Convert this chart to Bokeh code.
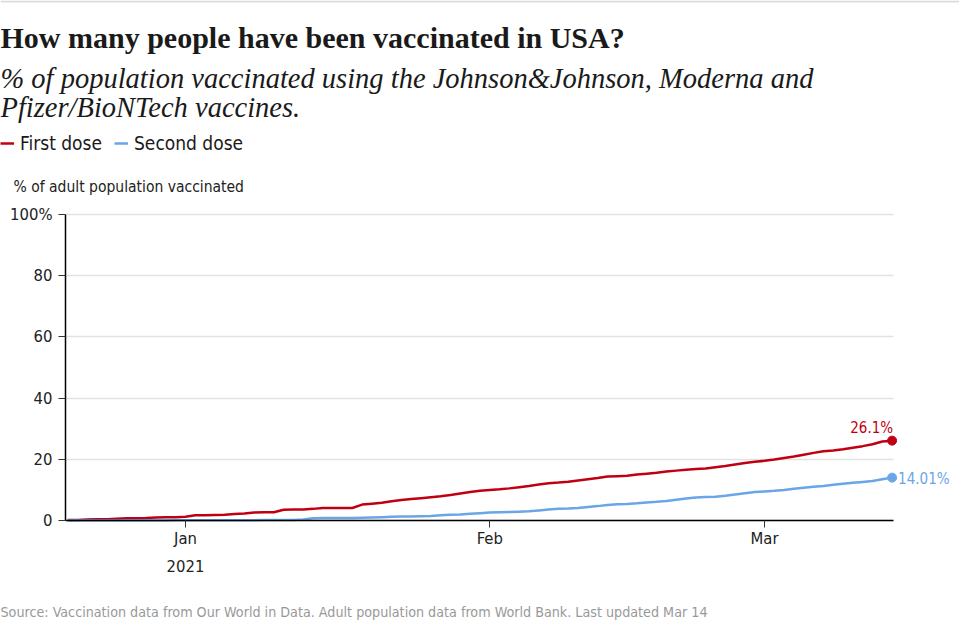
import pandas as pd
from bokeh.plotting import figure
from bokeh.models import (Label, Range1d, FixedTicker, Legend, LegendItem,
                          LinearAxis, DatetimeAxis, Grid, BoxAnnotation)
from bokeh.embed import file_html
from bokeh.resources import INLINE

start_date = "2020-12-20"
first_dose = [0.2, 0.2, 0.3, 0.4, 0.4, 0.6, 0.7, 0.7, 0.8, 1.0,
              1.1, 1.1, 1.2, 1.7, 1.7, 1.8, 1.9, 2.1, 2.3, 2.6,
              2.7, 2.7, 3.5, 3.6, 3.6, 3.8, 4.1, 4.1, 4.1, 4.1,
              5.2, 5.5, 5.8, 6.3, 6.7, 7.0, 7.3, 7.6, 7.9, 8.3,
              8.8, 9.3, 9.7, 10.0, 10.2, 10.5, 10.9, 11.3, 11.8, 12.2,
              12.4, 12.7, 13.1, 13.5, 13.9, 14.4, 14.5, 14.6, 15.0, 15.3,
              15.6, 16.0, 16.3, 16.6, 16.8, 17.0, 17.4, 17.8, 18.3, 18.8,
              19.2, 19.5, 19.9, 20.4, 20.9, 21.5, 22.1, 22.6, 22.9, 23.3,
              23.8, 24.3, 24.9, 25.8, 26.1]
second_dose = [0.0, 0.0, 0.0, 0.0, 0.0, 0.0, 0.0, 0.0, 0.0, 0.0,
               0.0, 0.05, 0.05, 0.05, 0.05, 0.05, 0.1, 0.1, 0.1, 0.1,
               0.15, 0.15, 0.15, 0.2, 0.3, 0.7, 0.8, 0.8, 0.8, 0.8,
               0.9, 1.0, 1.1, 1.2, 1.3, 1.3, 1.4, 1.5, 1.7, 1.9,
               2.0, 2.2, 2.4, 2.6, 2.7, 2.8, 2.9, 3.0, 3.3, 3.6,
               3.8, 3.9, 4.1, 4.4, 4.7, 5.1, 5.3, 5.4, 5.6, 5.9,
               6.1, 6.4, 6.8, 7.2, 7.5, 7.7, 7.8, 8.1, 8.5, 8.9,
               9.3, 9.5, 9.7, 10.0, 10.4, 10.7, 11.0, 11.3, 11.7, 12.0,
               12.3, 12.6, 12.9, 13.5, 14.01]
series_names = ["First dose", "Second dose"]
end_labels = ["26.1%", "14.01%"]
y_ticks = [0, 20, 40, 60, 80, 100]
x_tick_dates = ["2021-01-01", "2021-02-01", "2021-03-01"]
x_tick_labels = ["Jan", "Feb", "Mar"]
year_label = "2021"

dates = pd.date_range(start_date, periods=len(first_dose), freq="D")

RED = "#c00012"
BLUE = "#6aa6e5"
SANS = "DejaVu Sans Condensed, Roboto, sans-serif"
SERIF = "Liberation Serif, DejaVu Serif, serif"

W, H = 959, 637
# chart area on the canvas (pixels)
CL, CR, CT, CB = 65, 893, 214, 520
DAY_PX = 9.814
JAN1_PX = 185
DAY_MS = 86400000.0
jan1 = pd.Timestamp("2021-01-01").value / 1e6


def px_to_x(cx):
    return jan1 + (cx - JAN1_PX) / DAY_PX * DAY_MS


Y_PX = (CB - CT) / 100.0

p = figure(width=W, height=H, x_axis_type="datetime",
           x_axis_location=None, y_axis_location=None,
           x_range=Range1d(px_to_x(0), px_to_x(W)),
           y_range=Range1d(-(H - CB) / Y_PX, CB / Y_PX),
           output_backend="svg", toolbar_location=None,
           min_border=0)
p.outline_line_color = None
p.background_fill_color = "white"
p.border_fill_color = "white"
p.grid.visible = False

# thin rule at the very top
p.add_layout(BoxAnnotation(left=0, right=W, top=H, bottom=H - 2,
                           left_units="screen", right_units="screen",
                           top_units="screen", bottom_units="screen",
                           fill_color="#dcdcdc", fill_alpha=1, line_color=None))

# axes at fixed positions
yaxis = LinearAxis(fixed_location=px_to_x(CL), bounds=(0, 100),
                   ticker=FixedTicker(ticks=y_ticks))
yaxis.major_label_overrides = {100: "100%"}
xaxis = DatetimeAxis(fixed_location=0, bounds=(px_to_x(CL), px_to_x(CR)))
tick_ms = [pd.Timestamp(d).value / 1e6 for d in x_tick_dates]
xaxis.ticker = FixedTicker(ticks=tick_ms)
xaxis.major_label_overrides = {t: l for t, l in zip(tick_ms, x_tick_labels)}
for ax in (xaxis, yaxis):
    ax.minor_tick_line_color = None
    ax.major_tick_out = 7
    ax.major_tick_in = 0
    ax.axis_line_color = "black"
    ax.axis_line_width = 1.5
    ax.major_tick_line_color = "#333"
    ax.major_label_text_font = SANS
    ax.major_label_text_font_size = "16.5px"
    ax.major_label_text_color = "#222"
yaxis.major_label_standoff = 6
xaxis.major_label_standoff = 1
p.add_layout(yaxis, "left")
p.add_layout(xaxis, "below")

grid = Grid(dimension=1, ticker=yaxis.ticker, cross_bounds=(px_to_x(CL), px_to_x(CR)),
            grid_line_color="#e2e2e2", grid_line_width=1.5)
p.add_layout(grid)

r1 = p.line(dates, first_dose, line_color=RED, line_width=2.5)
r2 = p.line(dates, second_dose, line_color=BLUE, line_width=2.5)
p.scatter([dates[-1]], [first_dose[-1]], size=9, color=RED)
p.scatter([dates[-1]], [second_dose[-1]], size=9, color=BLUE)


def lab(text, cx, cy, size, color="#222", font=SANS, style="normal", align="left", base="middle"):
    p.add_layout(Label(x=cx, y=H - cy, x_units="screen", y_units="screen", text=text,
                       text_font=font, text_font_size=size, text_color=color,
                       text_font_style=style, text_align=align, text_baseline=base))


lab("How many people have been vaccinated in USA?", 0, 37, "30px", "#1a1a1a", SERIF, "bold", base="alphabetic")
lab("% of population vaccinated using the Johnson&Johnson, Moderna and", 0, 78, "28.5px", "#1a1a1a", SERIF, "italic", base="alphabetic")
lab("Pfizer/BioNTech vaccines.", 0, 107, "28.5px", "#1a1a1a", SERIF, "italic", base="alphabetic")
lab("% of adult population vaccinated", 13, 186, "15.5px")
lab("Source: Vaccination data from Our World in Data. Adult population data from World Bank. Last updated Mar 14",
    0, 611, "14.2px", "#999")

# year under the Jan tick
p.add_layout(Label(x=tick_ms[0], y=H - 565, x_units="data", y_units="screen", text=year_label,
                   text_font=SANS, text_font_size="16.5px", text_color="#222",
                   text_align="center", text_baseline="middle"))
# end-value labels
p.add_layout(Label(x=dates[-1], y=first_dose[-1], text=end_labels[0], x_offset=1, y_offset=13,
                   text_font=SANS, text_font_size="15px", text_color=RED,
                   text_align="right", text_baseline="middle"))
p.add_layout(Label(x=dates[-1], y=second_dose[-1], text=end_labels[1], x_offset=6, y_offset=-1,
                   text_font=SANS, text_font_size="15px", text_color=BLUE,
                   text_align="left", text_baseline="middle"))

legend = Legend(items=[LegendItem(label=series_names[0], renderers=[r1]),
                       LegendItem(label=series_names[1], renderers=[r2])],
                orientation="horizontal", location=(0, H - 154),
                glyph_width=14, glyph_height=20, label_standoff=6, spacing=12,
                padding=0, margin=0, border_line_color=None, background_fill_alpha=0,
                label_text_font=SANS, label_text_font_size="19px", label_text_color="#1a1a1a")
p.add_layout(legend, "center")

open("out.html", "w").write(file_html(p, INLINE))
